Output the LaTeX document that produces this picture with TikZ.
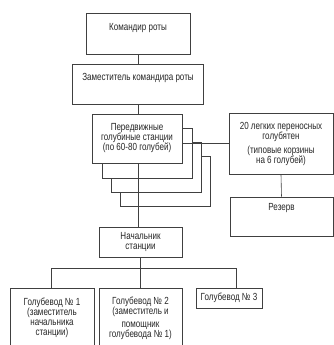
\documentclass[tikz,border=0pt]{standalone}
\usepackage{fontspec}
\setmainfont[FakeStretch=0.78]{Liberation Sans}
\begin{document}
\begin{tikzpicture}[x=1pt, y=-1pt]

      \tikzset{box/.style={draw=black!75, line width=0.6pt, rectangle, fill=white, inner sep=0pt, align=center,
                           font=\fontsize{10.3}{10}\selectfont, text=black!85},
               link/.style={draw=black!75, line width=0.6pt}}
      \useasboundingbox (0,0) rectangle (334,345);
%% Vertices
      	\node[box, minimum width=104, minimum height=41, text height=17.5, text depth=23.5] (cmd) at (138,33.5) {Командир роты};
      	\node[box, minimum width=131, minimum height=40, text height=16.5, text depth=23.5] (dep) at (138,84) {Заместитель командира роты};
%% stacked stations
      	\node[box, minimum width=90, minimum height=50] (st3) at (165,181.5) {};
      	\node[box, minimum width=90, minimum height=50] (st2) at (156,167) {};
      	\node[box, minimum width=90, minimum height=50] (st1) at (147,153.5) {};
      	\node[box, minimum width=90, minimum height=49] (st) at (137,138.5) {Передвижные\\голубиные станции\\(по 60-80 голубей)};
      	\node[box, minimum width=104, minimum height=61] (loft) at (281,143.5) {20 легких переносных\\голубятен\\[4pt](типовые корзины\\на 6 голубей)};
      	\node[box, minimum width=103, minimum height=39, text height=13.5, text depth=25.5] (res) at (281.5,216.5) {Резерв};
      	\node[box, minimum width=83, minimum height=30] (chief) at (140.5,242) {Начальник\\станции};
      	\node[box, minimum width=84, minimum height=60] (p1) at (52,318) {Голубевод № 1\\(заместитель\\начальника\\станции)};
      	\node[box, minimum width=83, minimum height=60] (p2) at (140.5,318) {Голубевод № 2\\(заместитель и\\[3pt]помощник\\голубевода № 1)};
      	\node[box, minimum width=66, minimum height=20] (p3) at (229,298) {Голубевод № 3};
      	\coordinate (busL) at (51,268);
      	\coordinate (busR) at (236,268);
%Edges
		\path[link] (cmd.south) -- (cmd.south |- dep.north);
		\path[link] (dep.south) -- (dep.south |- st.north);
		\path[link] (dep.south |- st.south) -- (dep.south |- chief.north);
		\path[link] (loft.west) -- (loft.west -| st.east);
		\path[link] (loft.south) -- (res.north);
		\path[link] (chief.south) -- (chief.south |- p2.north);
		\path[link] (busL |- p1.north) -- (busL) -- (busR) -- (busR |- p3.north);

	\end{tikzpicture}
\end{document}
